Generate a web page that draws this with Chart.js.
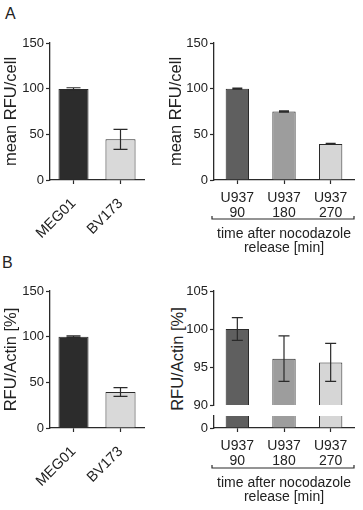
<!DOCTYPE html>
<html>
<head>
<meta charset="utf-8">
<script src="https://cdn.jsdelivr.net/npm/chart.js@4.4.0/dist/chart.umd.min.js"></script>
<style>
  body { margin: 0; background: #fff; width: 363px; height: 510px; overflow: hidden; position: relative;
         font-family: 'Liberation Sans', Arial, sans-serif; color: #222; }
  canvas { position: absolute; }
  .panel { position: absolute; font-size: 16px; line-height: 18px; }
  .ytitle { position: absolute; font-size: 16.5px; white-space: nowrap; transform: translate(-50%, -50%) rotate(-90deg); }
</style>
</head>
<body>
<div class="panel" style="left:5px;top:5px">A</div>
<div class="panel" style="left:2px;top:254px">B</div>
<div class="ytitle" style="left:177px;top:359px">RFU/Actin [%]</div>
<canvas id="aLeft" width="181" height="255" style="left:0;top:0"></canvas>
<canvas id="aRight" width="198" height="255" style="left:165px;top:0"></canvas>
<canvas id="bLeft" width="181" height="255" style="left:0;top:255px"></canvas>
<canvas id="bRightTop" width="198" height="165" style="left:165px;top:255px"></canvas>
<canvas id="bRightLow" width="198" height="110" style="left:165px;top:400px"></canvas>
<script>
// data
const cellLines = ['MEG01', 'BV173'];
const timepoints = [['U937', '90'], ['U937', '180'], ['U937', '270']];
const timeTitle = ['time after nocodazole', 'release [min]'];

const rfuCell = [99.5, 44.5];
const rfuCellErr = [1.5, 11];
const rfuCellU937 = [100, 75, 39.5];
const rfuCellU937Err = [0.6, 0.6, 0.5];

const rfuActin = [100, 39.5];
const rfuActinErr = [0.8, 4.8];
const rfuActinU937 = [100, 96.1, 95.6];
const rfuActinU937Err = [1.5, 3, 2.5];

const ticksFull = [0, 50, 100, 150];
const ticksUpper = [90, 95, 100, 105];
const ticksLower = [0, 10];

const coloursLines = ['#2c2c2c', '#d9d9d9'];
const coloursTime = ['#5f5f5f', '#9d9d9d', '#d6d6d6'];
const ink = '#2a2a2a';

Chart.defaults.font.family = "'Liberation Sans', Arial, sans-serif";
Chart.defaults.color = '#222';

// error bars drawn from the dataset's errors array
const errorBars = {
  id: 'errorBars',
  afterDatasetsDraw(chart, args, opts) {
    const ds = chart.data.datasets[0];
    if (!ds.errors) return;
    const y = chart.scales.y;
    const a = chart.chartArea;
    const ctx = chart.ctx;
    ctx.save();
    ctx.beginPath();
    ctx.rect(a.left, a.top - 2, a.right - a.left, a.bottom - a.top + 4);
    ctx.clip();
    ctx.strokeStyle = ink;
    ctx.lineWidth = 1.2;
    chart.getDatasetMeta(0).data.forEach((bar, i) => {
      const hi = y.getPixelForValue(ds.data[i] + ds.errors[i]);
      const lo = y.getPixelForValue(ds.data[i] - ds.errors[i]);
      const w = opts.cap / 2;
      ctx.beginPath();
      ctx.moveTo(bar.x, hi); ctx.lineTo(bar.x, lo);
      ctx.moveTo(bar.x - w, hi); ctx.lineTo(bar.x + w, hi);
      ctx.moveTo(bar.x - w, lo); ctx.lineTo(bar.x + w, lo);
      ctx.stroke();
    });
    ctx.restore();
  }
};

// bracket under the time point labels
const bracket = {
  id: 'bracket',
  afterDraw(chart, args, opts) {
    if (!opts.offset) return;
    const x = chart.scales.x;
    const y = chart.chartArea.bottom + opts.offset;
    const ctx = chart.ctx;
    ctx.save();
    ctx.strokeStyle = ink;
    ctx.lineWidth = 1.2;
    ctx.beginPath();
    ctx.moveTo(x.left - 2, y - 3);
    ctx.lineTo(x.left - 2, y);
    ctx.lineTo(x.right, y);
    ctx.lineTo(x.right, y - 3);
    ctx.stroke();
    ctx.restore();
  }
};

function barChart(id, o) {
  const rotated = o.rotated;
  return new Chart(document.getElementById(id), {
    type: 'bar',
    data: {
      labels: o.labels,
      datasets: [{
        data: o.values,
        errors: o.errors,
        backgroundColor: o.colours,
        borderColor: ink,
        borderWidth: 1,
        barPercentage: o.barPct,
        categoryPercentage: 1,
        clip: 0
      }]
    },
    options: {
      responsive: false,
      animation: false,
      layout: { padding: o.padding },
      plugins: {
        legend: { display: false },
        tooltip: { enabled: false },
        errorBars: { cap: o.cap },
        bracket: { offset: o.bracket || 0 }
      },
      scales: {
        x: {
          display: o.showX !== false,
          grid: { offset: false, drawOnChartArea: false, tickLength: 4, color: ink, tickWidth: 1.2 },
          border: { color: ink, width: 1.3 },
          ticks: rotated
            ? { minRotation: 45, maxRotation: 45, autoSkip: false, padding: 11, color: '#222', font: { size: 14.5 } }
            : { maxRotation: 0, autoSkip: false, padding: 6, color: '#222', font: { size: 14, lineHeight: 1.1 } },
          title: {
            display: !!o.xTitle,
            text: o.xTitle,
            color: '#222',
            font: { size: 14, lineHeight: 1 },
            padding: { top: 0, bottom: o.titlePad || 0 }
          },
          afterFit: s => { s.height = o.xHeight; }
        },
        y: {
          min: o.ticks[0],
          max: o.ticks[o.ticks.length - 1],
          grid: { drawOnChartArea: false, tickLength: 4, color: ink, tickWidth: 1.2 },
          border: { color: ink, width: 1.3 },
          ticks: {
            padding: 2,
            color: '#222',
            font: { size: 13 },
            callback: o.tickLabel || (v => v)
          },
          afterBuildTicks: s => { s.ticks = o.ticks.map(v => ({ value: v })); },
          afterFit: s => { s.width = o.yWidth; },
          title: {
            display: !!o.yTitle,
            text: o.yTitle,
            color: '#222',
            font: { size: 16.5 },
            padding: { top: 2, bottom: 0 }
          }
        }
      }
    },
    plugins: [errorBars, bracket]
  });
}

barChart('aLeft', {
  labels: cellLines, values: rfuCell, errors: rfuCellErr, colours: coloursLines,
  barPct: 0.64, cap: 14, rotated: true, ticks: ticksFull, yTitle: 'mean RFU/cell',
  yWidth: 50, xHeight: 75, padding: { top: 43, right: 37, left: 0, bottom: 0 }
});

barChart('aRight', {
  labels: timepoints, values: rfuCellU937, errors: rfuCellU937Err, colours: coloursTime,
  barPct: 0.5, cap: 10, ticks: ticksFull, yTitle: 'mean RFU/cell', xTitle: timeTitle, titlePad: 0,
  bracket: 39, yWidth: 49, xHeight: 75, padding: { top: 43, right: 9, left: 0, bottom: 0 }
});

barChart('bLeft', {
  labels: cellLines, values: rfuActin, errors: rfuActinErr, colours: coloursLines,
  barPct: 0.64, cap: 14, rotated: true, ticks: ticksFull, yTitle: 'RFU/Actin [%]',
  yWidth: 50, xHeight: 82, padding: { top: 36, right: 37, left: 0, bottom: 0 }
});

// broken axis: upper part 90-105
barChart('bRightTop', {
  labels: timepoints, values: rfuActinU937, errors: rfuActinU937Err, colours: coloursTime,
  barPct: 0.5, cap: 11, ticks: ticksUpper, showX: false,
  yWidth: 49, xHeight: 0, padding: { top: 36, right: 9, left: 0, bottom: 15 }
});

// broken axis: lower stub from 0
barChart('bRightLow', {
  labels: timepoints, values: rfuActinU937, colours: coloursTime,
  barPct: 0.5, cap: 11, ticks: ticksLower, tickLabel: v => (v === 0 ? '0' : ''),
  xTitle: timeTitle, titlePad: 5.5, bracket: 40,
  yWidth: 49, xHeight: 82, padding: { top: 16, right: 9, left: 0, bottom: 0 }
});
</script>
</body>
</html>
